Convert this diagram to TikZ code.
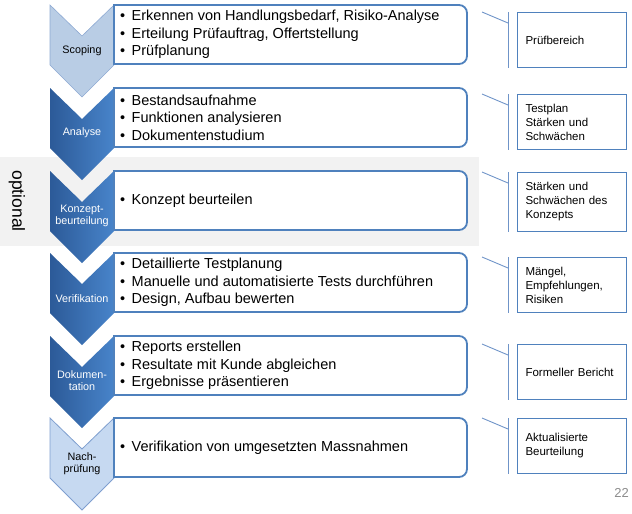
\documentclass[tikz,border=0pt]{standalone}
\usepackage{fontspec}
\setmainfont{Liberation Sans}
\definecolor{bandgray}{HTML}{F2F2F2}
\definecolor{boxblue}{HTML}{4F81BD}
\definecolor{linkblue}{HTML}{6F94C8}
\definecolor{darkL}{HTML}{2C5A98}
\definecolor{darkR}{HTML}{4884CA}
\definecolor{lightA}{HTML}{B9CDE5}
\definecolor{lightAb}{HTML}{8EAAD3}
\definecolor{lightB}{HTML}{C6D9F1}
\definecolor{lightBb}{HTML}{7F9FCF}
\definecolor{pagegray}{HTML}{8C8C8C}
\newcommand\itm{\makebox[11.5pt][l]{\textbullet}}
\tikzset{
  x=1pt,y=1pt,
  mainbox/.style={draw=boxblue,line width=1.8pt,fill=white},
  maintext/.style={anchor=west,inner sep=0pt,align=left,font=\fontsize{14.5}{17.5}\selectfont},
  chevlabel/.style={align=center,inner sep=0pt,font=\fontsize{10.8}{12}\selectfont},
  resultbox/.style={draw=boxblue,line width=1pt,fill=white,anchor=north west,
    minimum width=109pt,minimum height=55pt,text width=93pt,inner xsep=8pt,inner ysep=0pt,
    align=left,font=\fontsize{11.5}{14}\selectfont},
  linkline/.style={draw=linkblue,line width=0.9pt},
}
\newcommand\chevpath[1]{(50,-#1) -- (82,-#1-31) -- (114,-#1) -- (114,-#1-60) -- (82,-#1-92) -- (50,-#1-60) -- cycle}
\newcommand\boxpath[1]{(114,-#1) -- (459,-#1) arc[start angle=90,end angle=0,radius=8] -- (467,-#1-51) arc[start angle=0,end angle=-90,radius=8] -- (114,-#1-59) -- cycle}
\begin{document}
\begin{tikzpicture}
\useasboundingbox (0,0) rectangle (632,-514);
% optional band
\fill[bandgray] (0,-157) rectangle (479,-246);
\node[rotate=-90,inner sep=0pt,font=\fontsize{17.5}{20}\selectfont] (opt) at (17,-201) {optional};

% chevrons
\filldraw[fill=lightA,draw=lightAb,line width=0.6pt] \chevpath{5};
\shade[left color=darkL,right color=darkR] \chevpath{88};
\shade[left color=darkL,right color=darkR] \chevpath{171};
\shade[left color=darkL,right color=darkR] \chevpath{253};
\shade[left color=darkL,right color=darkR] \chevpath{336};
\filldraw[fill=lightB,draw=lightBb,line width=0.8pt] \chevpath{418};

\node[chevlabel] (c1) at (82,-51) {Scoping};
\node[chevlabel,text=white] (c2) at (82,-133) {Analyse};
\node[chevlabel,text=white] (c3) at (82,-216) {Konzept-\\beurteilung};
\node[chevlabel,text=white] (c4) at (82,-299) {Verifikation};
\node[chevlabel,text=white] (c5) at (82,-381) {Dokumen-\\tation};
\node[chevlabel] (c6) at (82,-464) {Nach-\\prüfung};

% main boxes
\draw[mainbox] \boxpath{5};
\draw[mainbox] \boxpath{88};
\draw[mainbox] \boxpath{171};
\draw[mainbox] \boxpath{253};
\draw[mainbox] \boxpath{336};
\draw[mainbox] \boxpath{418};

\node[maintext] (t1) at (120,-34.5) {\itm Erkennen von Handlungsbedarf, Risiko-Analyse\\\itm Erteilung Prüfauftrag, Offertstellung\\\itm Prüfplanung};
\node[maintext] (t2) at (120,-117.5) {\itm Bestandsaufnahme\\\itm Funktionen analysieren\\\itm Dokumentenstudium};
\node[maintext] (t3) at (120,-200.5) {\itm Konzept beurteilen};
\node[maintext] (t4) at (120,-282.5) {\itm Detaillierte Testplanung\\\itm Manuelle und automatisierte Tests durchführen\\\itm Design, Aufbau bewerten};
\node[maintext] (t5) at (120,-365.5) {\itm Reports erstellen\\\itm Resultate mit Kunde abgleichen\\\itm Ergebnisse präsentieren};
\node[maintext] (t6) at (120,-447.5) {\itm Verifikation von umgesetzten Massnahmen};

% result boxes
\node[resultbox] (r1) at (517,-12) {Prüfbereich};
\node[resultbox] (r2) at (517,-94) {Testplan\\Stärken und\\Schwächen};
\node[resultbox,minimum height=59pt] (r3) at (517,-172) {Stärken und\\Schwächen des\\Konzepts};
\node[resultbox] (r4) at (517,-257) {Mängel,\\Empfehlungen,\\Risiken};
\node[resultbox] (r5) at (517,-344) {Formeller Bericht};
\node[resultbox] (r6) at (517,-418) {Aktualisierte\\Beurteilung};

% brackets
\foreach \r/\y in {r1/12,r2/94,r3/172,r4/257,r5/344,r6/418}{
  \coordinate (\r s) at (482,-\y);
  \draw[linkline] ([xshift=-9pt]\r.north west) -- ([xshift=-9pt]\r.south west);
  \draw[linkline] (\r s) -- ([xshift=-9pt,yshift=-11pt]\r.north west);
}

\node[anchor=east,inner sep=0pt,text=pagegray,font=\fontsize{13}{15}\selectfont] (pg) at (629,-493) {22};
\end{tikzpicture}
\end{document}
